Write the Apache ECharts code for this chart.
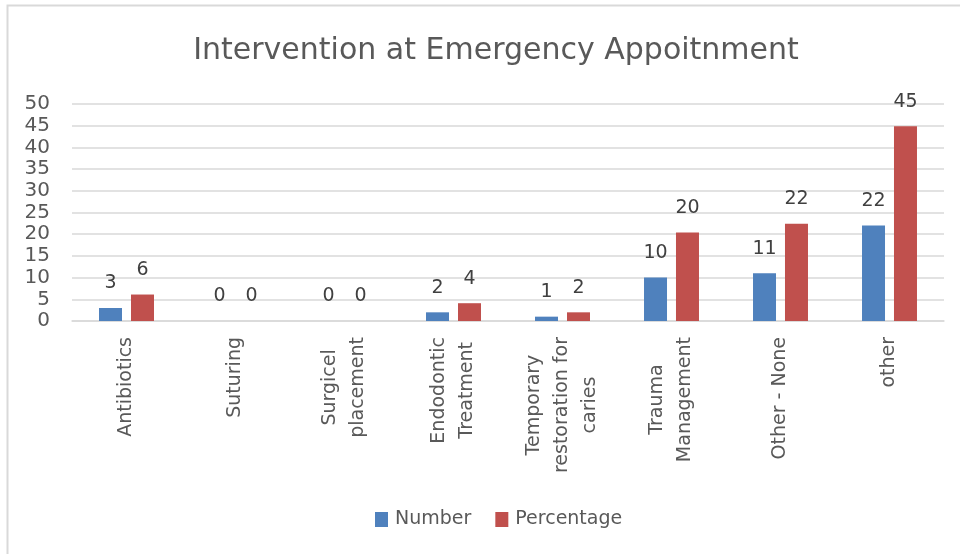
<!DOCTYPE html>
<html>
<head>
<meta charset="utf-8">
<title>Intervention at Emergency Appoitnment</title>
<script src="https://cdn.jsdelivr.net/npm/echarts@6/dist/echarts.min.js"></script>
<style>
  html, body { margin: 0; padding: 0; background: #fff; }
  #chart { width: 960px; height: 554px; }
</style>
</head>
<body>
<div id="chart"></div>
<script>
// categories (line breaks as in the original)
const categories = [
  "Antibiotics",
  "Suturing",
  "Surgicel\nplacement",
  "Endodontic\nTreatment",
  "Temporary\nrestoration for\ncaries",
  "Trauma\nManagement",
  "Other - None",
  "other",
];
const numberData = [3, 0, 0, 2, 1, 10, 11, 22];
const percentData = [6.1, 0, 0, 4.1, 2.0, 20.4, 22.4, 44.9];
const yTicks = { min: 0, max: 50, interval: 5 };

const textColor = "#595959";
const font = "'DejaVu Sans', sans-serif";

const chart = echarts.init(document.getElementById("chart"));

const barLabel = {
  show: true,
  position: "top",
  distance: 15,
  color: "#404040",
  fontSize: 19,
  fontFamily: font,
  formatter: (p) => Math.round(p.value),
};

chart.setOption({
  animation: false,
  title: {
    text: "Intervention at Emergency Appoitnment",
    left: 491,
    textAlign: "center",
    top: 31,
    textStyle: { color: textColor, fontSize: 30, fontWeight: "normal", fontFamily: font },
  },
  legend: {
    bottom: 20,
    left: 370,
    itemWidth: 13,
    itemHeight: 15,
    itemGap: 24,
    icon: "rect",
    textStyle: { color: textColor, fontSize: 19, fontFamily: font, padding: [0, 0, 0, 2] },
    data: ["Number", "Percentage"],
  },
  grid: { left: 72, right: 16, top: 104, bottom: 233 },
  xAxis: {
    type: "category",
    data: categories,
    axisTick: { show: false },
    axisLine: { lineStyle: { color: "#d9d9d9", width: 1.5 } },
    axisLabel: {
      rotate: 90,
      margin: 16,
      interval: 0,
      color: textColor,
      fontSize: 19,
      fontFamily: font,
      lineHeight: 28,
      formatter: (v) => v.split("\n").map((l) => "{c|" + l + "}").join("\n"),
      rich: { c: { align: "center", color: textColor, fontSize: 19, fontFamily: font, lineHeight: 28 } },
    },
  },
  yAxis: {
    type: "value",
    min: yTicks.min,
    max: yTicks.max,
    interval: yTicks.interval,
    axisLine: { show: false },
    axisTick: { show: false },
    axisLabel: { color: textColor, fontSize: 20, fontFamily: font, margin: 22 },
    splitLine: { lineStyle: { color: "#d9d9d9", width: 1.5 } },
  },
  series: [
    {
      name: "Number",
      type: "bar",
      data: numberData,
      barWidth: 23,
      barGap: "39%",
      itemStyle: { color: "#4f81bd" },
      label: barLabel,
    },
    {
      name: "Percentage",
      type: "bar",
      data: percentData,
      barWidth: 23,
      itemStyle: { color: "#c0504d" },
      label: barLabel,
    },
  ],
  graphic: [
    {
      type: "rect",
      shape: { x: 7.5, y: 5.5, width: 1000, height: 1000 },
      style: { fill: "none", stroke: "#d9d9d9", lineWidth: 2 },
      silent: true,
    },
  ],
});
</script>
</body>
</html>
